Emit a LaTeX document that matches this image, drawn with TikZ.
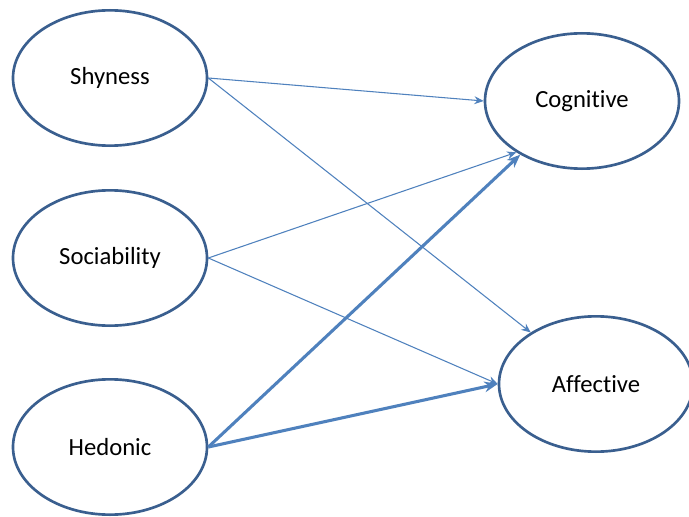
\documentclass[tikz,border=0pt]{standalone}
\usepackage{fontspec}
\setmainfont[Ligatures=NoCommon]{Carlito}
\usetikzlibrary{shapes.geometric,arrows.meta}
\definecolor{edge}{HTML}{3A5F8F}
\definecolor{arr}{HTML}{4F81BD}
\begin{document}
\begin{tikzpicture}[x=0.75pt,y=-0.75pt,
  oval/.style={ellipse,draw=edge,line width=2pt,fill=white,minimum width=145.5pt,minimum height=101.5pt,inner sep=0pt,font=\fontsize{18.5}{20}\selectfont},
  thin/.style={draw=arr,line width=0.8pt,-{Stealth[length=7pt,width=6pt]}},
  thick/.style={draw=arr,line width=2.3pt,-{Stealth[length=10pt,width=8pt]}}]
\useasboundingbox (0,0) rectangle (689,517);
\node[oval] (shy) at (110,78) {Shyness};
\node[oval] (soc) at (110,258) {Sociability};
\node[oval] (hed) at (110,447) {Hedonic};
\node[oval] (cog) at (582,101) {Cognitive};
\node[oval] (aff) at (596,384) {Affective};
\draw[thin] (shy.east) -- (cog.west);
\draw[thin] (shy.east) -- (aff);
\draw[thin] (soc.east) -- (cog.218);
\draw[thin] (soc.east) -- (aff.west);
\draw[thick] (hed.east) -- (cog.221);
\draw[thick] (hed.east) -- (aff.west);
\end{tikzpicture}
\end{document}
